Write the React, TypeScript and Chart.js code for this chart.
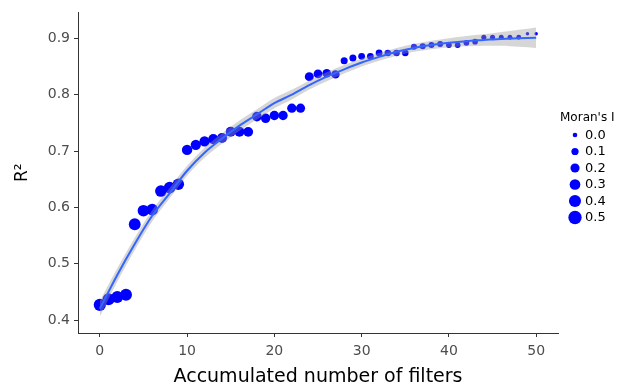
import React, { useEffect, useRef } from "react";
import { Chart, registerables } from "chart.js";

Chart.register(...registerables);

// ---- data ----
const filters = [
  0, 1, 2, 3, 4, 5, 6, 7, 8, 9, 10, 11, 12, 13, 14, 15, 16, 17, 18, 19, 20, 21, 22, 23, 24, 25,
  26, 27, 28, 29, 30, 31, 32, 33, 34, 35, 36, 37, 38, 39, 40, 41, 42, 43, 44, 45, 46, 47, 48, 49, 50,
];
const r2 = [
  0.427, 0.437, 0.441, 0.445, 0.570, 0.594, 0.596, 0.629, 0.635, 0.641, 0.702, 0.711, 0.717, 0.721,
  0.723, 0.734, 0.734, 0.734, 0.761, 0.758, 0.763, 0.763, 0.776, 0.776, 0.832, 0.837, 0.838, 0.836,
  0.860, 0.865, 0.868, 0.868, 0.874, 0.874, 0.874, 0.874, 0.885, 0.886, 0.888, 0.890, 0.888, 0.888,
  0.892, 0.894, 0.902, 0.902, 0.902, 0.902, 0.902, 0.908, 0.908,
];
const moran = [
  0.41, 0.40, 0.39, 0.39, 0.38, 0.37, 0.37, 0.37, 0.36, 0.35, 0.28, 0.27, 0.27, 0.26, 0.26, 0.25,
  0.25, 0.24, 0.23, 0.22, 0.22, 0.21, 0.21, 0.20, 0.19, 0.18, 0.17, 0.16, 0.09, 0.09, 0.08, 0.08,
  0.08, 0.07, 0.07, 0.07, 0.05, 0.05, 0.045, 0.045, 0.04, 0.04, 0.04, 0.035, 0.015, 0.015, 0.012,
  0.012, 0.01, -0.03, -0.03,
];
// smoothed fit (line) and its confidence half-width
const fitX = [0, 2, 4, 6, 8, 10, 12, 14, 16, 18, 20, 22, 24, 26, 28, 30, 32, 34, 36, 38, 40, 42, 44, 46, 48, 50];
const fitY = [
  0.42, 0.48, 0.535, 0.585, 0.625, 0.665, 0.697, 0.722, 0.745, 0.765, 0.785, 0.80, 0.817, 0.832,
  0.845, 0.857, 0.867, 0.876, 0.883, 0.888, 0.892, 0.895, 0.897, 0.899, 0.90, 0.901,
];
const fitSE = [
  0.014, 0.012, 0.011, 0.010, 0.0095, 0.009, 0.009, 0.009, 0.009, 0.009, 0.009, 0.0085, 0.008,
  0.008, 0.0075, 0.007, 0.007, 0.007, 0.007, 0.0075, 0.008, 0.009, 0.010, 0.012, 0.015, 0.018,
];
const xTicks = [0, 10, 20, 30, 40, 50];
const yTicks = [0.4, 0.5, 0.6, 0.7, 0.8, 0.9];
const legendMoran = [0.0, 0.1, 0.2, 0.3, 0.4, 0.5];
const legendLabels = ["0.0", "0.1", "0.2", "0.3", "0.4", "0.5"];

const FONT = "'DejaVu Sans', Verdana, sans-serif";
const POINT_COLOR = "#0000FF";

function radiusFor(I: number): number {
  return Math.sqrt(Math.max(1, 5.3 + 78 * I));
}

const sizeLegend = {
  id: "sizeLegend",
  afterDraw(chart: any) {
    const ctx = chart.ctx as CanvasRenderingContext2D;
    const area = chart.chartArea;
    const x0 = area.right + 2;
    const dotX = x0 + 15;
    const labelX = x0 + 25;
    const top = 118;
    const step = 16.5;
    ctx.save();
    ctx.fillStyle = "#000";
    ctx.font = `12px ${FONT}`;
    ctx.textBaseline = "middle";
    ctx.textAlign = "left";
    ctx.fillText("Moran's I", x0, top);
    legendMoran.forEach((m, i) => {
      const y = top + 17 + i * step;
      ctx.beginPath();
      ctx.fillStyle = POINT_COLOR;
      ctx.arc(dotX, y, radiusFor(m), 0, Math.PI * 2);
      ctx.fill();
      ctx.fillStyle = "#000";
      ctx.font = `13px ${FONT}`;
      ctx.fillText(legendLabels[i], labelX, y + 0.5);
    });
    ctx.restore();
  },
};

export default function App() {
  const canvasRef = useRef<HTMLCanvasElement | null>(null);

  useEffect(() => {
    document.body.style.margin = "0";
    const canvas = canvasRef.current;
    if (!canvas) return;

    const fitData = fitX.map((x, i) => ({ x, y: fitY[i] }));
    const lowerData = fitX.map((x, i) => ({ x, y: fitY[i] - fitSE[i] }));
    const upperData = fitX.map((x, i) => ({ x, y: fitY[i] + fitSE[i] }));
    const pointData = filters.map((x, i) => ({ x, y: r2[i] }));

    const chart = new Chart(canvas, {
      type: "scatter",
      data: {
        datasets: [
          {
            label: "fit",
            data: fitData,
            showLine: true,
            borderColor: "#3366FF",
            borderWidth: 2,
            pointRadius: 0,
            fill: false,
            cubicInterpolationMode: "monotone",
            order: 0,
          } as any,
          {
            label: "lower",
            data: lowerData,
            showLine: true,
            borderWidth: 0,
            borderColor: "rgba(0,0,0,0)",
            pointRadius: 0,
            fill: false,
            cubicInterpolationMode: "monotone",
            order: 1,
          } as any,
          {
            label: "upper",
            data: upperData,
            showLine: true,
            borderWidth: 0,
            borderColor: "rgba(0,0,0,0)",
            backgroundColor: "rgba(153,153,153,0.4)",
            pointRadius: 0,
            fill: "-1",
            cubicInterpolationMode: "monotone",
            order: 2,
          } as any,
          {
            label: "points",
            data: pointData,
            pointRadius: moran.map(radiusFor),
            pointBackgroundColor: POINT_COLOR,
            backgroundColor: POINT_COLOR,
            pointBorderWidth: 0,
            borderWidth: 0,
            order: 3,
          } as any,
        ],
      },
      options: {
        animation: false,
        responsive: false,
        events: [],
        layout: { padding: { left: 0, right: 71, top: 8, bottom: 0 } },
        plugins: {
          legend: { display: false },
          tooltip: { enabled: false },
        },
        scales: {
          x: {
            type: "linear",
            min: -2.5,
            max: 52.5,
            afterBuildTicks: (s: any) => {
              s.ticks = xTicks.map((v) => ({ value: v }));
            },
            afterFit: (s: any) => {
              s.height = 54;
            },
            ticks: {
              font: { family: FONT, size: 14 },
              color: "#4d4d4d",
              padding: 6,
              callback: (v: any) => String(v),
            },
            grid: { drawOnChartArea: false, drawTicks: true, tickLength: 4, color: "#333" },
            border: { display: true, color: "#333", width: 1 },
            title: {
              display: true,
              text: "Accumulated number of filters",
              font: { family: FONT, size: 19 },
              color: "#000",
              padding: { top: 0, bottom: -1 },
            },
          },
          y: {
            type: "linear",
            min: 0.377,
            max: 0.946,
            afterBuildTicks: (s: any) => {
              s.ticks = yTicks.map((v) => ({ value: v }));
            },
            afterFit: (s: any) => {
              s.width = 78;
            },
            ticks: {
              font: { family: FONT, size: 14 },
              color: "#4d4d4d",
              padding: 4,
              callback: (v: any) => Number(v).toFixed(1),
            },
            grid: { drawOnChartArea: false, drawTicks: true, tickLength: 4, color: "#333" },
            border: { display: true, color: "#333", width: 1 },
            title: {
              display: true,
              text: "R²",
              font: { family: FONT, size: 17 },
              color: "#000",
              padding: { top: 12, bottom: 0 },
            },
          },
        },
      } as any,
      plugins: [sizeLegend],
    });

    return () => {
      chart.destroy();
    };
  }, []);

  return (
    <div style={{ width: 629, height: 387, background: "#fff" }}>
      <canvas ref={canvasRef} width={629} height={387} style={{ display: "block" }} />
    </div>
  );
}
